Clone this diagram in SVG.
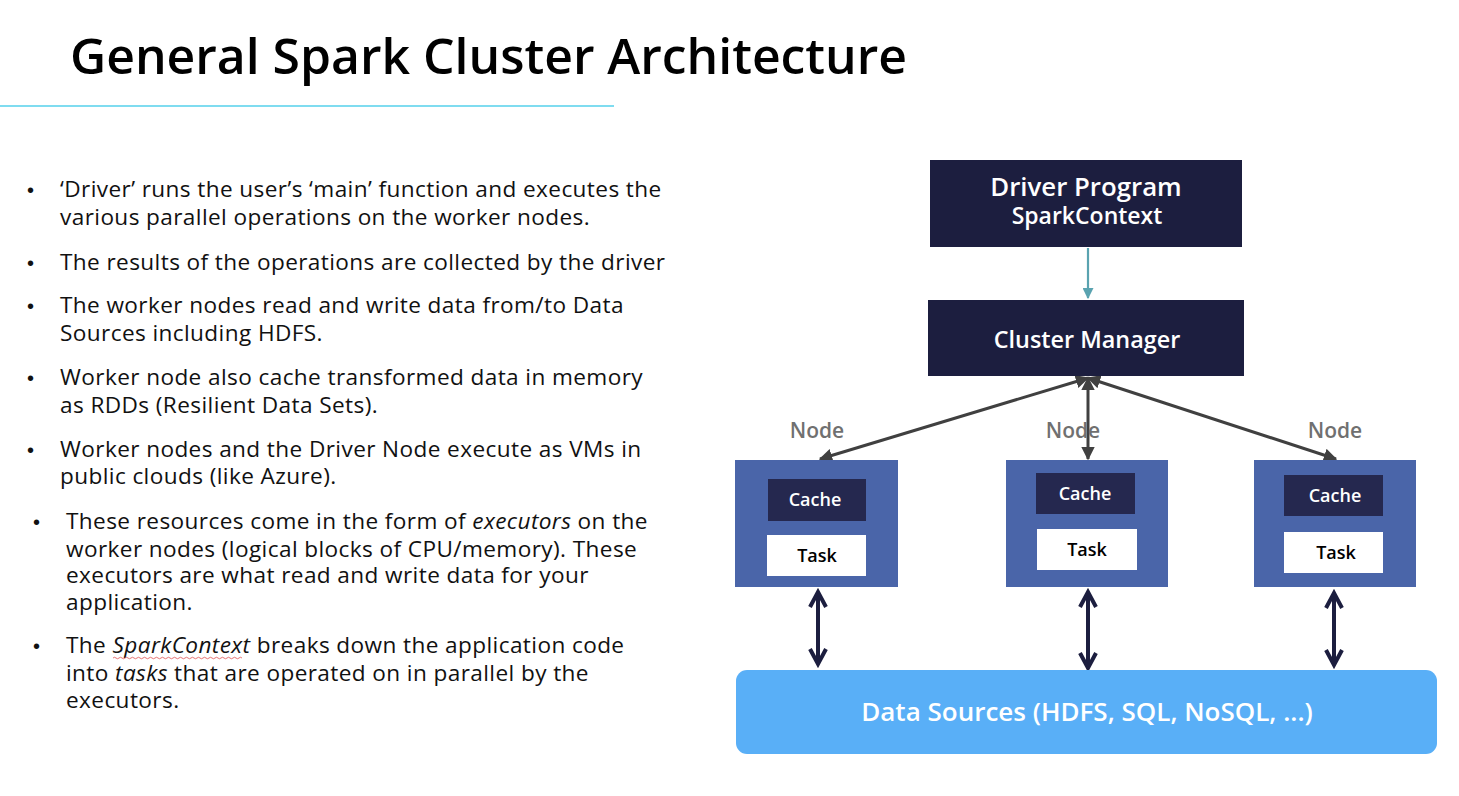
<svg xmlns="http://www.w3.org/2000/svg" width="1459" height="796" viewBox="0 0 1459 796">
<style>
.title{font-family:"Open Sans","Liberation Sans",sans-serif;font-weight:600;font-size:48px;fill:#000}
.b{font-family:"Open Sans","Liberation Sans",sans-serif;font-size:22.6px;letter-spacing:0.4px;fill:#111}
.dot{font-family:"Liberation Sans",sans-serif;font-size:20px;fill:#111}
.hw{font-family:"Open Sans","Liberation Sans",sans-serif;font-weight:600;fill:#fff;text-anchor:middle}
.sm{font-family:"Open Sans","Liberation Sans",sans-serif;font-weight:600;font-size:18px;text-anchor:middle}
.node{font-family:"Open Sans","Liberation Sans",sans-serif;font-weight:600;font-size:21px;fill:#707070;text-anchor:middle}
.dark{fill:#1c1e3f}
.worker{fill:#4a65a9}
.cache{fill:#25284f}
.task{fill:#fff}
.nav{fill:none;stroke:#1c1e3f;stroke-width:4}
.navh{fill:none;stroke:#1c1e3f;stroke-width:4;stroke-linejoin:miter}
</style>
<defs>
<marker id="gh" viewBox="0 0 10 10" refX="9" refY="5" markerWidth="4.5" markerHeight="4.5" orient="auto-start-reverse" markerUnits="strokeWidth"><path d="M0,0 L10,5 L0,10 z" fill="#404040"/></marker>
<marker id="th" viewBox="0 0 10 10" refX="9" refY="5" markerWidth="5" markerHeight="5" orient="auto" markerUnits="strokeWidth"><path d="M0,0 L10,5 L0,10 z" fill="#5aa3b0"/></marker>
</defs>

<g id="title">
<text class="title" x="70" y="74" textLength="837" lengthAdjust="spacingAndGlyphs">General Spark Cluster Architecture</text>
<line x1="0" y1="106" x2="614" y2="106" stroke="#7fdcf0" stroke-width="2"/>
</g>

<g id="bullets">
<text class="dot" x="27" y="197">•</text>
<text class="b" x="60" y="197">‘Driver’ runs the user’s ‘main’ function and executes the</text>
<text class="b" x="60" y="225">various parallel operations on the worker nodes.</text>
<text class="dot" x="27" y="270">•</text>
<text class="b" x="60" y="270">The results of the operations are collected by the driver</text>
<text class="dot" x="27" y="313">•</text>
<text class="b" x="60" y="313">The worker nodes read and write data from/to Data</text>
<text class="b" x="60" y="341">Sources including HDFS.</text>
<text class="dot" x="27" y="385">•</text>
<text class="b" x="60" y="385">Worker node also cache transformed data in memory</text>
<text class="b" x="60" y="413">as RDDs (Resilient Data Sets).</text>
<text class="dot" x="27" y="457">•</text>
<text class="b" x="60" y="457">Worker nodes and the Driver Node execute as VMs in</text>
<text class="b" x="60" y="484">public clouds (like Azure).</text>
<text class="dot" x="33" y="529">•</text>
<text class="b" x="66" y="529">These resources come in the form of <tspan font-style="italic">executors</tspan> on the</text>
<text class="b" x="66" y="557">worker nodes (logical blocks of CPU/memory). These</text>
<text class="b" x="66" y="583">executors are what read and write data for your</text>
<text class="b" x="66" y="610">application.</text>
<text class="dot" x="33" y="653">•</text>
<text class="b" x="66" y="653">The <tspan font-style="italic">SparkContext</tspan> breaks down the application code</text>
<path d="M113,658 q1.5,-1.5 3,0 t3,0 t3,0 t3,0 t3,0 t3,0 t3,0 t3,0 t3,0 t3,0 t3,0 t3,0 t3,0 t3,0 t3,0 t3,0 t3,0 t3,0 t3,0 t3,0 t3,0 t3,0 t3,0 t3,0 t3,0 t3,0 t3,0 t3,0 t3,0 t3,0 t3,0 t3,0 t3,0 t3,0 t3,0 t3,0 t3,0 t3,0 t3,0 t3,0 t3,0 t3,0 t3,0" fill="none" stroke="#e05050" stroke-width="0.8"/>
<text class="b" x="66" y="681">into <tspan font-style="italic">tasks</tspan> that are operated on in parallel by the</text>
<text class="b" x="66" y="708">executors.</text>
</g>

<g id="connectors">
<line x1="1088" y1="248" x2="1088" y2="298" stroke="#5aa3b0" stroke-width="2.2" marker-end="url(#th)"/>
<line x1="1088" y1="378" x2="820" y2="459" stroke="#404040" stroke-width="3" marker-start="url(#gh)" marker-end="url(#gh)"/>
<line x1="1088" y1="378" x2="1088" y2="459" stroke="#404040" stroke-width="3" marker-start="url(#gh)" marker-end="url(#gh)"/>
<line x1="1088" y1="378" x2="1336" y2="459" stroke="#404040" stroke-width="3" marker-start="url(#gh)" marker-end="url(#gh)"/>
<line class="nav" x1="818" y1="592" x2="818" y2="664"/>
<path class="navh" d="M810,607 L818,592 L826,607 M810,649 L818,664 L826,649"/>
<line class="nav" x1="1088" y1="592" x2="1088" y2="668"/>
<path class="navh" d="M1080,607 L1088,592 L1096,607 M1080,653 L1088,668 L1096,653"/>
<line class="nav" x1="1334" y1="593" x2="1334" y2="665"/>
<path class="navh" d="M1326,608 L1334,593 L1342,608 M1326,650 L1334,665 L1342,650"/>
</g>

<g id="driver">
<rect class="dark" x="930" y="160" width="312" height="87"/>
<text class="hw" x="1086" y="196" font-size="25.8">Driver Program</text>
<text class="hw" x="1087" y="224" font-size="23">SparkContext</text>
</g>

<g id="cluster-manager">
<rect class="dark" x="928" y="300" width="316" height="76"/>
<text class="hw" x="1087" y="348" font-size="23.4">Cluster Manager</text>
</g>

<g id="node-left">
<text class="node" x="817" y="438">Node</text>
<rect class="worker" x="735" y="460" width="163" height="127"/>
<rect class="cache" x="768" y="479" width="98" height="42"/>
<text class="sm" x="815" y="506" fill="#fff">Cache</text>
<rect class="task" x="767" y="535" width="99" height="41"/>
<text class="sm" x="817" y="562" fill="#000">Task</text>
</g>

<g id="node-middle">
<text class="node" x="1073" y="438">Node</text>
<rect class="worker" x="1006" y="460" width="162" height="127"/>
<rect class="cache" x="1036" y="473" width="99" height="41"/>
<text class="sm" x="1085" y="500" fill="#fff">Cache</text>
<rect class="task" x="1037" y="529" width="100" height="41"/>
<text class="sm" x="1087" y="556" fill="#000">Task</text>
</g>

<g id="node-right">
<text class="node" x="1335" y="438">Node</text>
<rect class="worker" x="1254" y="460" width="162" height="127"/>
<rect class="cache" x="1284" y="475" width="99" height="41"/>
<text class="sm" x="1335" y="502" fill="#fff">Cache</text>
<rect class="task" x="1284" y="532" width="99" height="41"/>
<text class="sm" x="1336" y="559" fill="#000">Task</text>
</g>

<g id="data-sources">
<rect x="736" y="670" width="701" height="84" rx="11" fill="#59aff7"/>
<text class="hw" x="1087" y="721" font-size="26">Data Sources (HDFS, SQL, NoSQL, ...)</text>
</g>
</svg>
